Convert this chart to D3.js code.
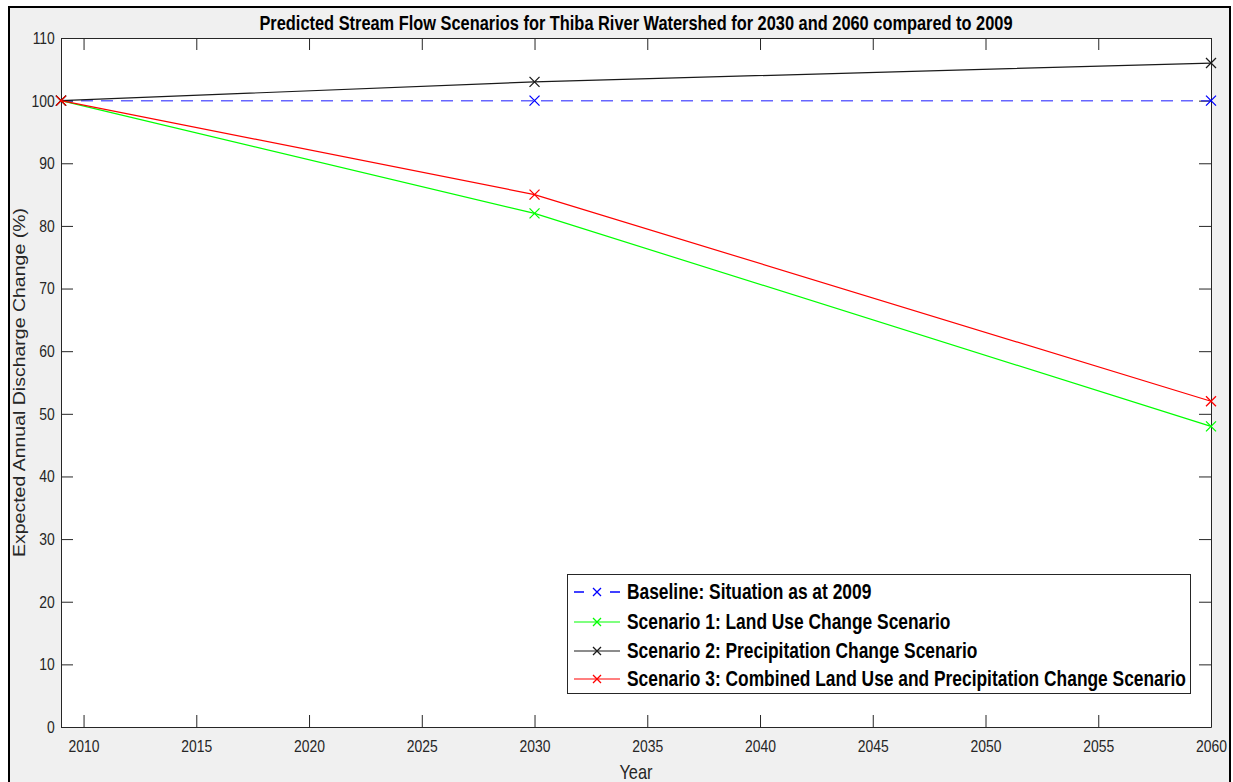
<!DOCTYPE html>
<html>
<head>
<meta charset="utf-8">
<script src="https://cdn.jsdelivr.net/npm/d3@7"></script>
<style>
  html, body { margin: 0; padding: 0; background: #fff; }
  svg { display: block; }
</style>
</head>
<body>
<div id="chart"></div>
<script>
// Years of the scenario runs
const years = [2009, 2030, 2060];

// Expected annual discharge (% of 2009)
const baseline   = [100, 100, 100];
const scenario1  = [100, 82, 48];
const scenario2  = [100, 103, 106];
const scenario3  = [100, 85, 52];

const xTicks = [2010, 2015, 2020, 2025, 2030, 2035, 2040, 2045, 2050, 2055, 2060];
const yTicks = [0, 10, 20, 30, 40, 50, 60, 70, 80, 90, 100, 110];

const seriesNames = [
  "Baseline: Situation as at 2009",
  "Scenario 1: Land Use Change Scenario",
  "Scenario 2: Precipitation Change Scenario",
  "Scenario 3: Combined Land Use and Precipitation Change Scenario"
];

const series = [
  { name: seriesNames[0], values: baseline,  color: "#0000ff", dash: "12,8" },
  { name: seriesNames[1], values: scenario1, color: "#00ff00", dash: null },
  { name: seriesNames[2], values: scenario2, color: "#1a1a1a", dash: null },
  { name: seriesNames[3], values: scenario3, color: "#ff0000", dash: null }
];

const W = 1233, H = 782;
const margin = { left: 61, right: W - 1211, top: 38, bottom: H - 727 };
const font = "'Liberation Sans', Arial, sans-serif";
const axisColor = "#262626";
const sx = 0.82;   // narrow text rendering

const svg = d3.select("#chart").append("svg")
  .attr("width", W).attr("height", H)
  .style("font-family", font);

// Figure background and outer frame
svg.append("rect").attr("x", 0).attr("y", 0).attr("width", W).attr("height", H).attr("fill", "#fff");
svg.append("rect").attr("x", 9).attr("y", 7).attr("width", 1221).attr("height", H + 10)
  .attr("fill", "#f0f0f0").attr("stroke", "#000").attr("stroke-width", 2);

const x = d3.scaleLinear().domain([2009, 2060]).range([margin.left, W - margin.right]);
const y = d3.scaleLinear().domain([0, 110]).range([H - margin.bottom, margin.top]);

const x0 = x.range()[0], x1 = x.range()[1];
const y0 = y.range()[0], y1 = y.range()[1];

// Plot area
svg.append("rect").attr("x", x0).attr("y", y1).attr("width", x1 - x0).attr("height", y0 - y1)
  .attr("fill", "#fff");

const tickLen = 12;

// Bottom axis (ticks pointing inward)
const gx = svg.append("g").attr("transform", `translate(0,${y0})`)
  .call(d3.axisBottom(x).tickValues(xTicks).tickFormat(d3.format("d")).tickSizeInner(-tickLen).tickSizeOuter(0).tickPadding(19));
// Left axis
const gy = svg.append("g").attr("transform", `translate(${x0},0)`)
  .call(d3.axisLeft(y).tickValues(yTicks).tickFormat(d3.format("d")).tickSizeInner(-tickLen).tickSizeOuter(0).tickPadding(7.5));
// Top and right mirror axes, ticks only
const gt = svg.append("g").attr("transform", `translate(0,${y1})`)
  .call(d3.axisTop(x).tickValues(xTicks).tickFormat("").tickSizeInner(-tickLen).tickSizeOuter(0));
const gr = svg.append("g").attr("transform", `translate(${x1},0)`)
  .call(d3.axisRight(y).tickValues(yTicks).tickFormat("").tickSizeInner(-tickLen).tickSizeOuter(0));

[gx, gy, gt, gr].forEach(g => {
  g.selectAll(".domain").attr("stroke", axisColor).attr("stroke-width", 1);
  g.selectAll(".tick line").attr("stroke", axisColor).attr("stroke-width", 1);
  g.selectAll("text").attr("fill", axisColor).style("font-size", "17px").style("font-family", font)
    .attr("transform", `scale(${sx},1)`);
});
gx.selectAll(".tick text").attr("dy", "0.35em");

// Series lines and markers
const line = d3.line().x((d, i) => x(years[i])).y(d => y(d));
const mk = 5;

series.forEach(s => {
  svg.append("path").datum(s.values)
    .attr("d", line).attr("fill", "none")
    .attr("stroke", s.color).attr("stroke-width", s.dash ? 1.5 : 1.2)
    .attr("stroke-opacity", s.dash ? 0.6 : 1)
    .attr("stroke-dasharray", s.dash);
  svg.append("g").selectAll("path").data(s.values).join("path")
    .attr("d", (d, i) => {
      const cx = x(years[i]), cy = y(d);
      return `M${cx - mk},${cy - mk}L${cx + mk},${cy + mk}M${cx - mk},${cy + mk}L${cx + mk},${cy - mk}`;
    })
    .attr("stroke", s.color).attr("stroke-width", 1.3).attr("fill", "none");
});

// Horizontal text helper with narrow rendering
function narrowText(px, py, str, size, weight, anchor, fill) {
  return svg.append("text")
    .attr("transform", `translate(${px},${py}) scale(${sx},1)`)
    .attr("text-anchor", anchor).attr("fill", fill)
    .style("font-size", size + "px").style("font-weight", weight)
    .text(str);
}

// Title
narrowText((x0 + x1) / 2, 30, "Predicted Stream Flow Scenarios for Thiba River Watershed for 2030 and 2060 compared to 2009",
  20, "bold", "middle", "#000");

// Axis labels
narrowText((x0 + x1) / 2, 779, "Year", 20, "normal", "middle", axisColor);
svg.append("text")
  .attr("transform", `translate(25,${(y0 + y1) / 2}) scale(${sx},1) rotate(-90)`)
  .attr("text-anchor", "middle").attr("fill", axisColor).style("font-size", "19.5px")
  .text("Expected Annual Discharge Change (%)");

// Legend
const lg = svg.append("g");
lg.append("rect").attr("x", 567.5).attr("y", 574.5).attr("width", 623).attr("height", 119)
  .attr("fill", "#fff").attr("stroke", axisColor).attr("stroke-width", 1);
const rowY = [592, 622, 651, 679];
series.forEach((s, i) => {
  const ry = rowY[i];
  if (s.dash) {
    lg.append("line").attr("x1", 574).attr("x2", 584).attr("y1", ry).attr("y2", ry)
      .attr("stroke", s.color).attr("stroke-width", 1.5);
    lg.append("line").attr("x1", 610).attr("x2", 620).attr("y1", ry).attr("y2", ry)
      .attr("stroke", s.color).attr("stroke-width", 1.5);
  } else {
    lg.append("line").attr("x1", 574).attr("x2", 620).attr("y1", ry).attr("y2", ry)
      .attr("stroke", s.color).attr("stroke-width", 1.2);
  }
  const cx = 597;
  lg.append("path")
    .attr("d", `M${cx - 4},${ry - 4}L${cx + 4},${ry + 4}M${cx - 4},${ry + 4}L${cx + 4},${ry - 4}`)
    .attr("stroke", s.color).attr("stroke-width", 1.3);
  lg.append("text")
    .attr("transform", `translate(627,${ry}) scale(${sx},1)`)
    .attr("dy", "0.35em")
    .attr("fill", "#000").style("font-size", "21.2px").style("font-weight", "bold")
    .text(s.name);
});
</script>
</body>
</html>
